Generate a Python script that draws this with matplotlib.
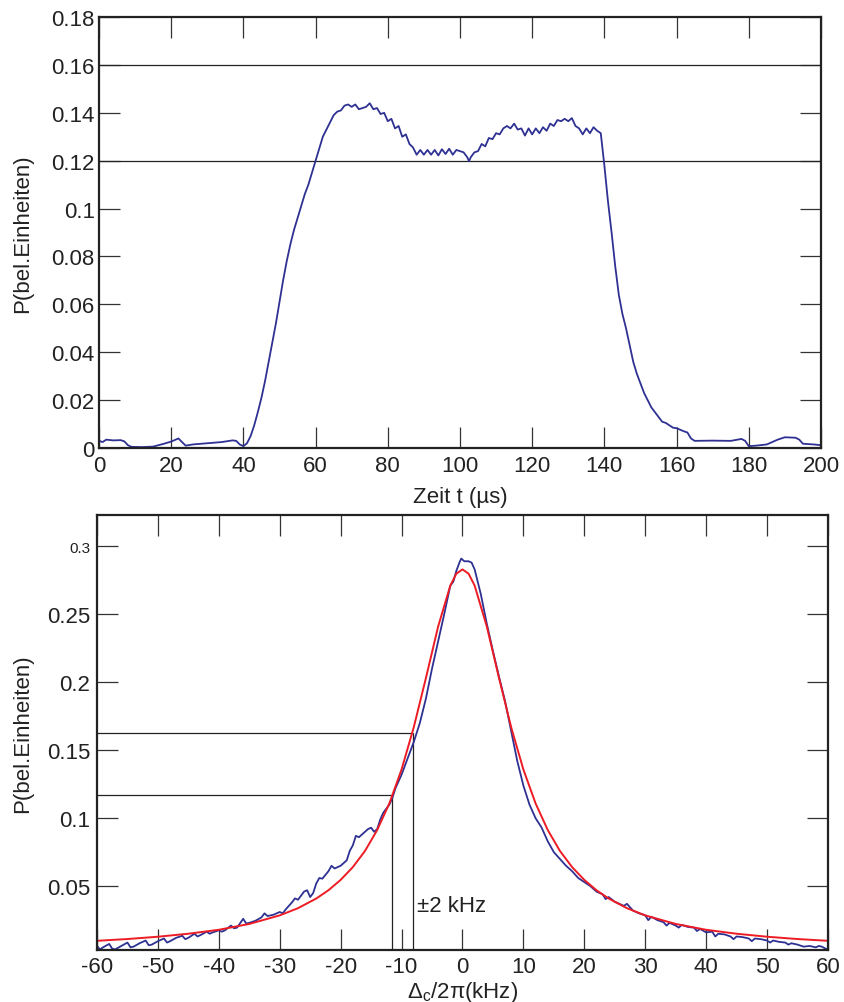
import matplotlib
matplotlib.use("Agg")
import matplotlib.pyplot as plt

plt.rcParams['font.family'] = ['Liberation Sans', 'DejaVu Sans']
plt.rcParams['mathtext.fontset'] = 'custom'
plt.rcParams['mathtext.rm'] = 'Liberation Sans'
plt.rcParams['mathtext.default'] = 'regular'
plt.rcParams['axes.unicode_minus'] = False

# --- top panel: pulse, P vs time (us) ---
t_us = [0, 1, 2, 4, 6, 7, 8, 9, 12, 15, 18, 20, 22, 23, 24, 26, 30, 34, 37, 38, 39, 40, 41, 42,
        43, 44, 45, 46, 47, 48, 49, 50, 51, 52, 53, 54, 55, 56, 57, 58, 59, 60, 61, 62, 63, 64,
        65, 66, 67, 68, 69, 70, 71, 72, 73, 74, 75, 76, 77, 78, 79, 80, 81, 82, 83, 84, 85, 86,
        87, 88, 89, 90, 91, 92, 93, 94, 95, 96, 97, 98, 99, 100, 101, 102, 102.5, 103, 104, 105,
        106, 107, 108, 109, 110, 111, 112, 113, 114, 115, 116, 117, 118, 119, 120, 121, 122, 123,
        124, 125, 126, 127, 128, 129, 130, 131, 132, 133, 134, 135, 136, 137, 138, 139, 140, 141,
        142, 143, 144, 145, 146, 147, 148, 149, 150, 151, 152, 153, 154, 155, 156, 157, 158, 159,
        160, 162, 163, 164, 165, 170, 175, 178, 179, 180, 182, 185, 188, 190, 193, 194, 195, 198, 200]
p_time = [0.0030, 0.0025, 0.0035, 0.0032, 0.0033, 0.0028, 0.0012, 0.0005, 0.0004, 0.0006, 0.0018,
          0.0027, 0.0040, 0.0025, 0.0010, 0.0015, 0.0020, 0.0025, 0.0032, 0.0030, 0.0015, 0.0008,
          0.0020, 0.0050, 0.0095, 0.015, 0.021, 0.028, 0.036, 0.044, 0.052, 0.061, 0.070, 0.078,
          0.085, 0.091, 0.096, 0.101, 0.106, 0.110, 0.115, 0.120, 0.125, 0.130, 0.133, 0.136,
          0.139, 0.1405, 0.141, 0.143, 0.1435, 0.1425, 0.1435, 0.1415, 0.142, 0.1425, 0.144,
          0.1415, 0.142, 0.1395, 0.140, 0.1365, 0.1375, 0.1335, 0.1345, 0.130, 0.131, 0.127,
          0.1255, 0.1225, 0.1245, 0.1225, 0.1245, 0.1225, 0.1245, 0.1222, 0.1248, 0.1228, 0.125,
          0.1225, 0.1245, 0.124, 0.1235, 0.1215, 0.1198, 0.1215, 0.1235, 0.124, 0.127, 0.126,
          0.1295, 0.129, 0.1315, 0.131, 0.1335, 0.1345, 0.1335, 0.1355, 0.133, 0.1335, 0.1305,
          0.1335, 0.131, 0.1335, 0.1315, 0.134, 0.1325, 0.1355, 0.1345, 0.137, 0.1365, 0.1375,
          0.1365, 0.1378, 0.1345, 0.1335, 0.131, 0.1335, 0.1315, 0.134, 0.1325, 0.1315, 0.118,
          0.103, 0.090, 0.076, 0.064, 0.056, 0.050, 0.043, 0.036, 0.031, 0.027, 0.023, 0.020,
          0.017, 0.015, 0.013, 0.011, 0.0105, 0.0095, 0.0085, 0.0083, 0.0070, 0.0065, 0.0040,
          0.0030, 0.0031, 0.0030, 0.0038, 0.0030, 0.0008, 0.0010, 0.0015, 0.0035, 0.0045, 0.0043,
          0.0035, 0.0018, 0.0015, 0.0012]
top_hlines = [0.12, 0.16]

# --- bottom panel: resonance, P vs detuning (kHz) ---
det_khz = [-60.0, -59.5, -59.0, -58.0, -57.5, -57.0, -56.0, -55.0, -54.5, -54.0, -53.0, -52.0,
           -51.5, -51.0, -50.0, -49.0, -48.5, -48.0, -47.0, -46.0, -45.5, -45.0, -44.0, -43.5,
           -43.0, -42.0, -41.5, -41.0, -40.0, -39.5, -39.0, -38.0, -37.5, -37.0, -36.0, -35.5,
           -35.0, -34.0, -33.0, -32.5, -32.0, -31.0, -30.0, -29.5, -29.0, -28.0, -27.5, -27.0,
           -26.0, -25.5, -25.0, -24.5, -24.0, -23.5, -23.0, -22.0, -21.5, -21.0, -20.0, -19.0,
           -18.5, -18.0, -17.5, -17.0, -16.0, -15.5, -15.0, -14.5, -14.0, -13.5, -13.0, -12.5,
           -12.0, -11.5, -11.0, -10.0, -9.0, -8.0, -7.0, -6.0, -5.0, -4.0, -3.0, -2.0, -1.5,
           -1.0, -0.5, -0.2, 0.3, 1.0, 1.5, 2.0, 3.0, 4.0, 5.0, 6.0, 7.0, 8.0, 9.0, 10.0, 11.0,
           12.0, 13.0, 14.0, 15.0, 16.0, 17.0, 18.0, 19.0, 20.0, 21.0, 22.0, 23.0, 23.5, 24.0,
           25.0, 26.0, 26.5, 27.0, 28.0, 29.0, 30.0, 30.5, 31.0, 32.0, 33.0, 33.5, 34.0, 35.0,
           35.5, 36.0, 37.0, 38.0, 38.5, 39.0, 40.0, 41.0, 41.5, 42.0, 43.0, 44.0, 44.5, 45.0,
           46.0, 47.0, 47.5, 48.0, 49.0, 50.0, 50.5, 51.0, 52.0, 53.0, 53.5, 54.0, 55.0, 56.0,
           57.0, 58.0, 58.5, 59.0, 59.6, 60.0]
p_meas = [0.0060, 0.0035, 0.0050, 0.0075, 0.0040, 0.0035, 0.0060, 0.0085, 0.0050, 0.0055, 0.0080,
          0.0100, 0.0065, 0.0070, 0.0095, 0.0115, 0.0085, 0.0095, 0.0120, 0.0135, 0.0110, 0.0120,
          0.0150, 0.0130, 0.0140, 0.0165, 0.0150, 0.0160, 0.0175, 0.0165, 0.0175, 0.0210, 0.0190,
          0.0195, 0.0260, 0.0225, 0.0230, 0.0245, 0.0270, 0.0300, 0.0280, 0.0290, 0.0310, 0.0300,
          0.0330, 0.0380, 0.0410, 0.0400, 0.0460, 0.0470, 0.0420, 0.0450, 0.0520, 0.0560, 0.0555,
          0.0610, 0.0650, 0.0630, 0.0650, 0.0690, 0.0760, 0.0800, 0.0870, 0.0860, 0.0900, 0.0920,
          0.0930, 0.0900, 0.0920, 0.0990, 0.1040, 0.1070, 0.1100, 0.1150, 0.1220, 0.1320, 0.1440,
          0.1560, 0.1700, 0.1880, 0.2100, 0.2300, 0.2500, 0.2710, 0.2740, 0.2820, 0.2880, 0.2910,
          0.2890, 0.2890, 0.2880, 0.2830, 0.2650, 0.2430, 0.2230, 0.2040, 0.1860, 0.1640, 0.1420,
          0.1240, 0.1100, 0.1000, 0.0930, 0.0830, 0.0750, 0.0700, 0.0650, 0.0610, 0.0560, 0.0530,
          0.0500, 0.0460, 0.0440, 0.0405, 0.0420, 0.0385, 0.0365, 0.0355, 0.0370, 0.0320, 0.0300,
          0.0285, 0.0250, 0.0275, 0.0250, 0.0235, 0.0210, 0.0230, 0.0210, 0.0195, 0.0215, 0.0200,
          0.0195, 0.0170, 0.0185, 0.0160, 0.0165, 0.0130, 0.0150, 0.0145, 0.0130, 0.0110, 0.0130,
          0.0125, 0.0115, 0.0095, 0.0115, 0.0110, 0.0100, 0.0085, 0.0100, 0.0090, 0.0085, 0.0070,
          0.0080, 0.0070, 0.0055, 0.0060, 0.0050, 0.0060, 0.0055, 0.0040, 0.0035]

det_fit = [-60, -55, -50, -45, -40, -35, -30, -27, -24, -22, -20, -18, -16, -14, -12, -10, -8, -6,
           -4, -2, -1, 0, 1, 2, 4, 6, 8, 10, 12, 14, 16, 18, 20, 22, 24, 27, 30, 35, 40, 45, 50, 55, 60]
p_fit = [0.0098, 0.0111, 0.0128, 0.0150, 0.0179, 0.0222, 0.0285, 0.0338, 0.0409, 0.0470, 0.0546,
         0.0640, 0.0759, 0.0913, 0.1109, 0.1358, 0.1668, 0.2031, 0.2409, 0.2711, 0.2799, 0.2830,
         0.2799, 0.2711, 0.2409, 0.2031, 0.1668, 0.1358, 0.1109, 0.0913, 0.0759, 0.0640, 0.0546,
         0.0470, 0.0409, 0.0338, 0.0285, 0.0222, 0.0179, 0.0150, 0.0128, 0.0111, 0.0098]

# level / width markers
mark_x = [-11.6, -8.2]
mark_p = [0.117, 0.1625]

blue = '#2E3192'
red = '#ED1C24'

fig = plt.figure(figsize=(8.44, 10.03), dpi=100)
ax1 = fig.add_axes([0.1173, 0.5523, 0.8554, 0.4297])
ax2 = fig.add_axes([0.1149, 0.0518, 0.8661, 0.4337])

for ax in (ax1, ax2):
    for s in ax.spines.values():
        s.set_linewidth(1.6)
        s.set_color('#222222')
    ax.tick_params(direction='in', length=15, width=0.9, color='#333333',
                   top=True, right=True, labelsize=16, labelcolor='#222222')

# top panel
for h in top_hlines:
    ax1.axhline(h, color='#222222', lw=0.9)
ax1.plot(t_us, p_time, color=blue, lw=1.3)
ax1.set_xlim(0, 200)
ax1.set_ylim(0, 0.18)
ax1.set_xticks(range(0, 201, 20))
ax1.set_yticks([0, 0.02, 0.04, 0.06, 0.08, 0.1, 0.12, 0.14, 0.16, 0.18])
ax1.set_yticklabels(['0', '0.02', '0.04', '0.06', '0.08', '0.1', '0.12', '0.14', '0.16', '0.18'])
ax1.tick_params(axis='x', pad=5)
ax1.tick_params(axis='y', pad=3)
ax1.set_xlabel('Zeit t (µs)', fontsize=16, color='#222222')
ax1.set_ylabel('P(bel.Einheiten)', fontsize=16, color='#222222')
ax1.xaxis.set_label_coords(0.5, -0.088)
ax1.yaxis.set_label_coords(-0.091, 0.5)

# bottom panel
ylo = 0.003
ax2.hlines(mark_p, -60, mark_x, color='#222222', lw=0.9)
ax2.vlines(mark_x, ylo, mark_p, color='#222222', lw=0.9)
ax2.plot(det_khz, p_meas, color=blue, lw=1.3)
ax2.plot(det_fit, p_fit, color=red, lw=1.4)
ax2.text(-7.5, 0.0355, '±2 kHz', fontsize=16, color='#222222', va='center', ha='left')
ax2.set_xlim(-60, 60)
ax2.set_ylim(ylo, 0.323)
ax2.set_xticks(range(-60, 61, 10))
ax2.set_yticks([0.05, 0.1, 0.15, 0.2, 0.25, 0.3])
ax2.set_yticklabels(['0.05', '0.1', '0.15', '0.2', '0.25', '0.3'])
ax2.get_yticklabels()[-1].set_fontsize(11)
ax2.tick_params(axis='x', pad=4)
ax2.tick_params(axis='y', pad=5)
ax2.set_xlabel(r'$\Delta_c$/2π(kHz)', fontsize=16, color='#222222')
ax2.set_ylabel('P(bel.Einheiten)', fontsize=16, color='#222222')
ax2.xaxis.set_label_coords(0.5, -0.066)
ax2.yaxis.set_label_coords(-0.087, 0.5)

fig.savefig('out.png', dpi=100)
